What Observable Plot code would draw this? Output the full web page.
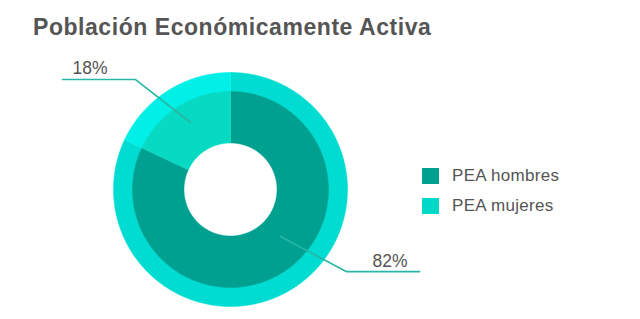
<!DOCTYPE html>
<html>
<head>
<meta charset="utf-8">
<script src="https://cdn.jsdelivr.net/npm/d3@7"></script>
<script src="https://cdn.jsdelivr.net/npm/@observablehq/plot@0.6"></script>
<style>
  html, body { margin: 0; padding: 0; background: #fff; }
  #wrap { position: relative; width: 640px; height: 319px; font-family: "Liberation Sans", Arial, Helvetica, sans-serif; }
  #wrap svg { position: absolute; left: 0; top: 0; }
  #title { position: absolute; left: 33px; top: 16px; font-size: 23px; line-height: 22px; letter-spacing: 0.55px; font-weight: bold; color: #555; white-space: nowrap; }
  .leg { position: absolute; left: 422px; height: 17px; font-size: 17px; line-height: 17px; letter-spacing: 0.3px; color: #555; white-space: nowrap; }
  .leg .sw { position: absolute; left: 0; top: 1px; width: 17px; height: 16px; }
  .leg .tx { position: absolute; left: 30px; top: 0; }
</style>
</head>
<body>
<div id="wrap"><div id="title"></div></div>
<script>
// ---- data ----
const title = "Población Económicamente Activa";
const categories = ["PEA hombres", "PEA mujeres"];
const values = [82, 18];
const valueLabels = ["82%", "18%"];

// ---- style ----
const innerColors = ["#00a090", "#07d9c3"];
const outerColors = ["#00dcd1", "#00efe6"];
const legendColors = ["#00a090", "#00d9c8"];
const leaderColor = "#28b6a5";
const textColor = "#555";
const center = { x: 230, y: 189 };       // pixel centre of the donut
const R_hole = 46.5, R_pie = 98, R_ring = 117;
// leader geometry per slice: angle offsets (deg) from slice mid-angle, radii, horizontal run
const leaderStyle = [
  { d0: -14.4, r0: 68.6, d1: -22.3, r1: 142.2, run: 73, side: 1,  textGap: 12, lift: 5 },
  { d0: 1.6,   r0: 78,   d1: -8.4,  r1: 145.3, run: 73, side: -1, textGap: 10, lift: 6 }
];

const data = categories.map((c, i) => ({ category: c, value: values[i], label: valueLabels[i], i }));
const arcs = d3.pie().sort(null).value(d => d.value)(data);

const polar = (a, r) => ({ x: r * Math.sin(a), y: r * Math.cos(a) });
function arcPolygon(a0, a1, r0, r1) {
  const n = Math.max(8, Math.ceil((a1 - a0) / 0.01));
  const pts = [];
  for (let k = 0; k <= n; k++) pts.push(polar(a0 + (a1 - a0) * k / n, r1));
  for (let k = n; k >= 0; k--) pts.push(polar(a0 + (a1 - a0) * k / n, r0));
  return pts;
}

const marks = [];
arcs.forEach((a, i) => {
  marks.push(Plot.line(arcPolygon(a.startAngle, a.endAngle, R_pie - 0.3, R_ring), {
    x: "x", y: "y", curve: "linear-closed", fill: outerColors[i], stroke: outerColors[i], strokeWidth: 0.5
  }));
  marks.push(Plot.line(arcPolygon(a.startAngle, a.endAngle, R_hole, R_pie), {
    x: "x", y: "y", curve: "linear-closed", fill: innerColors[i], stroke: innerColors[i], strokeWidth: 0.5
  }));
});

// leader lines and labels
const deg = Math.PI / 180;
const textData = [];
arcs.forEach((a, i) => {
  const s = leaderStyle[i];
  const mid = (a.startAngle + a.endAngle) / 2;
  const p0 = polar(mid + s.d0 * deg, s.r0);
  const p1 = polar(mid + s.d1 * deg, s.r1);
  const p2 = { x: p1.x + s.side * s.run, y: p1.y };
  marks.push(Plot.line([p0, p1, p2], { x: "x", y: "y", stroke: leaderColor, strokeWidth: 1.6 }));
  textData.push({
    x: p2.x - s.side * s.textGap, y: p2.y + s.lift, text: a.data.label,
    anchor: s.side > 0 ? "end" : "start"
  });
});
textData.forEach(t => {
  marks.push(Plot.text([t], {
    x: "x", y: "y", text: "text", textAnchor: t.anchor, lineAnchor: "bottom",
    fontSize: 17.5, fill: textColor, fontFamily: "Liberation Sans, Arial, sans-serif"
  }));
});

const W = 640, H = 319;
const chart = Plot.plot({
  width: W, height: H,
  margin: 0,
  style: { background: "transparent", overflow: "visible" },
  x: { domain: [-center.x, W - center.x], range: [0, W], axis: null },
  y: { domain: [center.y - H, center.y], range: [H, 0], axis: null },
  marks
});

const wrap = document.getElementById("wrap");
wrap.appendChild(chart);
document.getElementById("title").textContent = title;

// legend
categories.forEach((c, i) => {
  const item = document.createElement("div");
  item.className = "leg";
  item.style.top = (167 + i * 30) + "px";
  item.innerHTML = `<div class="sw" style="background:${legendColors[i]}"></div><div class="tx"></div>`;
  item.querySelector(".tx").textContent = c;
  wrap.appendChild(item);
});
</script>
</body>
</html>
